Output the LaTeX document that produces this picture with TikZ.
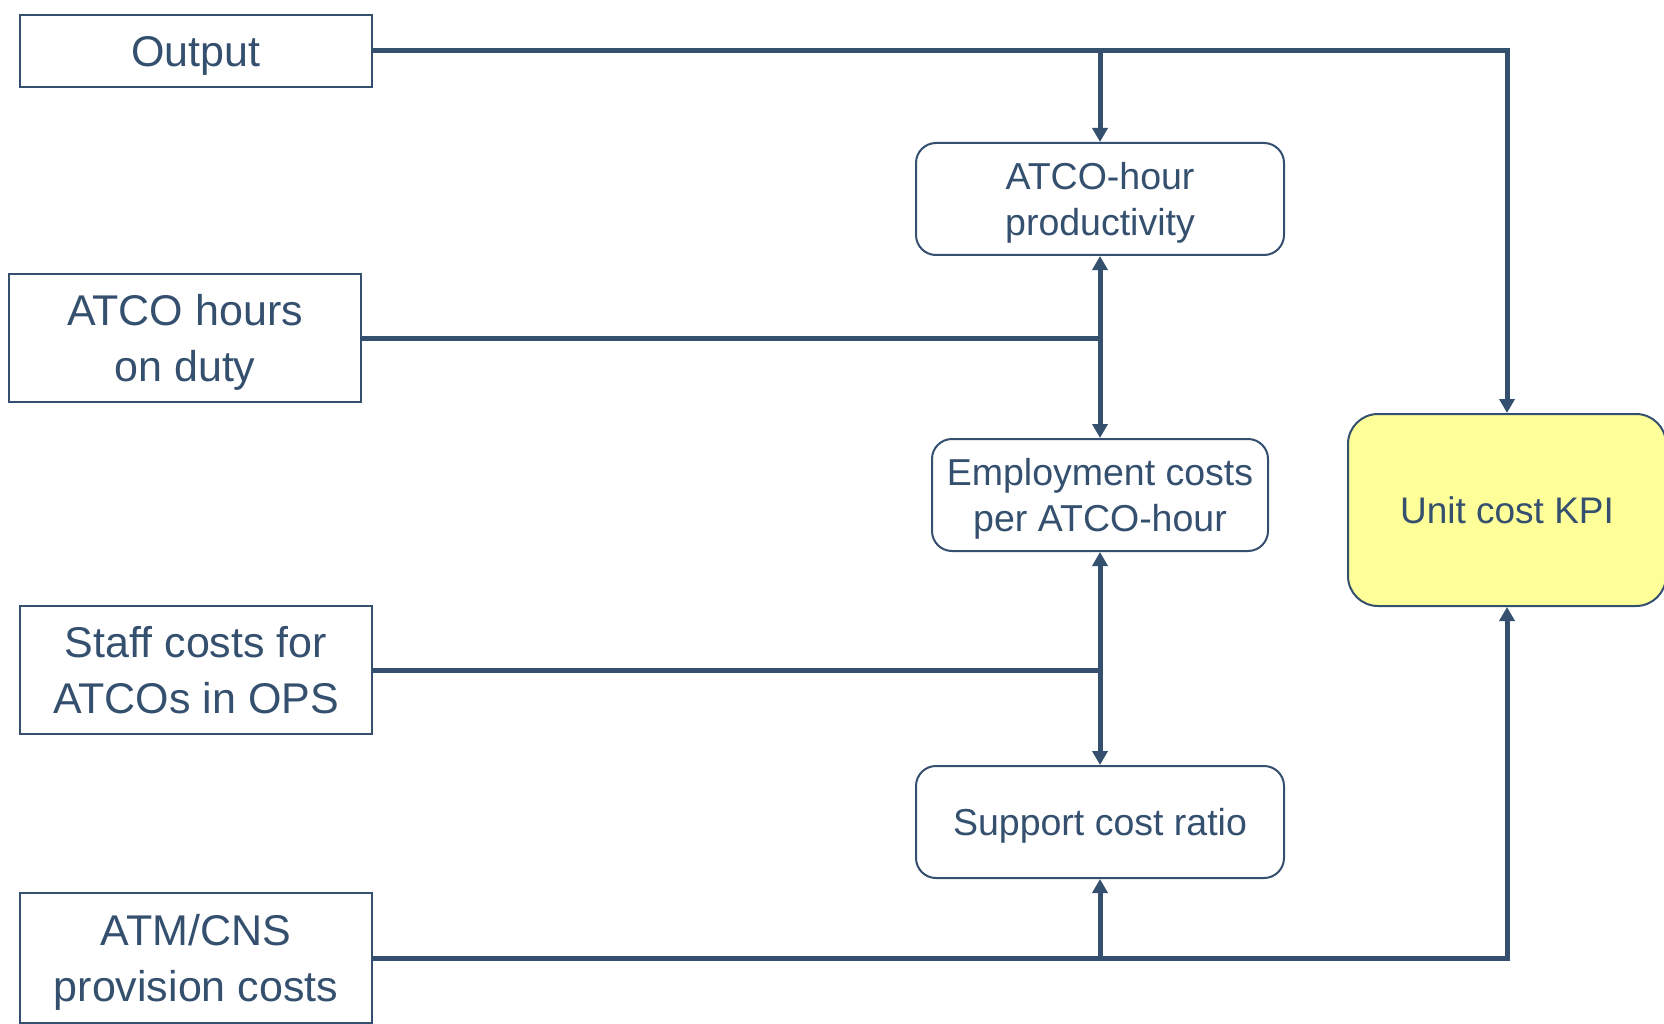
\documentclass[tikz,border=0pt]{standalone}
\usepackage{fontspec}
\setmainfont{Liberation Sans}
\usetikzlibrary{arrows.meta}
\definecolor{navy}{RGB}{52,80,110}
\definecolor{kpiyellow}{RGB}{255,255,153}
\begin{document}
\begin{tikzpicture}[x=1pt,y=-1pt,
  inbox/.style={draw=navy,line width=2pt,text=navy,align=center,inner sep=0pt,
    text depth=0pt,font=\fontsize{43}{56}\selectfont},
  midbox/.style={draw=navy,line width=2pt,text=navy,align=center,inner sep=0pt,
    text depth=0pt,rounded corners=20pt,font=\fontsize{37.5}{46}\selectfont},
  kpibox/.style={draw=navy,line width=2pt,text=navy,align=center,inner sep=0pt,
    text depth=0pt,rounded corners=30pt,fill=kpiyellow,font=\fontsize{37}{45}\selectfont},
  wire/.style={draw=navy,line width=5pt},
  tip/.style={-{Triangle[width=15pt,length=14pt]}},
  tips/.style={{Triangle[width=15pt,length=14pt]}-{Triangle[width=15pt,length=14pt]}}]
\useasboundingbox (0,0) rectangle (1664,1024);
\fill[white] (0,0) rectangle (1664,1024);
% input boxes
\node[inbox,minimum width=352pt,minimum height=72pt] (out) at (196,51) {Output};
\node[inbox,minimum width=352pt,minimum height=128pt] (hours) at (185,338) {ATCO hours\\on duty};
\node[inbox,minimum width=352pt,minimum height=128pt] (staff) at (196,670) {Staff costs for\\ATCOs in OPS};
\node[inbox,minimum width=352pt,minimum height=130pt] (atm) at (196,958) {ATM/CNS\\provision costs};
% middle boxes
\node[midbox,minimum width=368pt,minimum height=112pt] (prod) at (1100,199) {ATCO-hour\\productivity};
\node[midbox,minimum width=336pt,minimum height=112pt] (emp) at (1100,495) {Employment costs\\per ATCO-hour};
\node[midbox,minimum width=368pt,minimum height=112pt] (sup) at (1100,822) {Support cost ratio};
% KPI
\node[kpibox,minimum width=318pt,minimum height=192pt] (kpi) at (1507,510) {Unit cost KPI};
% junctions
\coordinate (j0) at (prod.north |- out.east);
\coordinate (j1) at (prod.south |- hours.east);
\coordinate (j2) at (emp.south |- staff.east);
\coordinate (j3) at (sup.south |- atm.east);
% connectors
\draw[wire,tip] (out.east) -| (kpi.north);
\draw[wire,tip] (j0) -- (prod.north);
\draw[wire] (hours.east) -- (j1);
\draw[wire,tips] (prod.south) -- (emp.north);
\draw[wire] (staff.east) -- (j2);
\draw[wire,tips] (emp.south) -- (sup.north);
\draw[wire,tip] (atm.east) -| (kpi.south);
\draw[wire,tip] (j3) -- (sup.south);
\end{tikzpicture}
\end{document}
